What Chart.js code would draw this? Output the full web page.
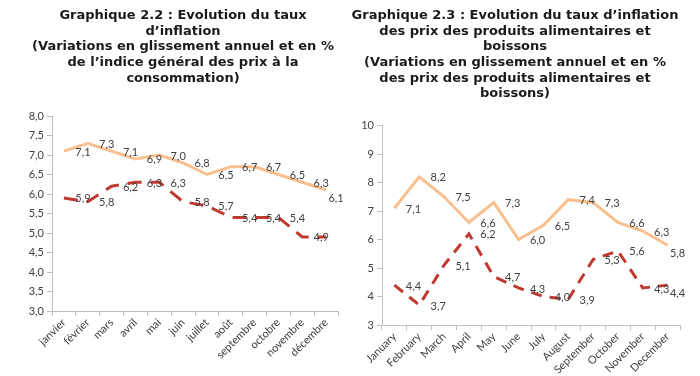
<!DOCTYPE html>
<html>
<head>
<meta charset="utf-8">
<script src="https://cdn.jsdelivr.net/npm/chart.js@4.4.1/dist/chart.umd.min.js"></script>
<style>
  body { margin: 0; background: #fff; }
  #wrap { position: relative; width: 700px; height: 376px; }
  canvas { position: absolute; top: 0; }
  #left { left: 0; }
  #right { left: 350px; }
</style>
</head>
<body>
<div id="wrap">
  <canvas id="left" width="350" height="376"></canvas>
  <canvas id="right" width="350" height="376"></canvas>
</div>
<script>
const moisFr = ["janvier", "février", "mars", "avril", "mai", "juin", "juillet", "août", "septembre", "octobre", "novembre", "décembre"];
const monthsEn = ["January", "February", "March", "April", "May", "June", "July", "August", "September", "October", "November", "December"];

// Graphique 2.2
const generalOrange = [7.1, 7.3, 7.1, 6.9, 7.0, 6.8, 6.5, 6.7, 6.7, 6.5, 6.3, 6.1];
const generalRed    = [5.9, 5.8, 6.2, 6.3, 6.3, 5.8, 5.7, 5.4, 5.4, 5.4, 4.9, 4.9];

// Graphique 2.3
const foodOrange = [7.1, 8.2, 7.5, 6.6, 7.3, 6.0, 6.5, 7.4, 7.3, 6.6, 6.3, 5.8];
const foodRed    = [4.4, 3.7, 5.1, 6.2, 4.7, 4.3, 4.0, 3.9, 5.3, 5.6, 4.3, 4.4];

const title22 = [
  "Graphique 2.2 : Evolution du taux",
  "d\u2019inflation",
  "(Variations en glissement annuel et en %",
  "de l\u2019indice général des prix à la",
  "consommation)"
];
const title23 = [
  "Graphique 2.3 : Evolution du taux d\u2019inflation",
  "des prix des produits alimentaires et",
  "boissons",
  "(Variations en glissement annuel et en %",
  "des prix des produits alimentaires et",
  "boissons)"
];

const ORANGE = "#f9bf8f";
const RED = "#c0392f";
const AXIS = "#bfbfbf";
const TXT = "#404040";

function fmt(v, dec) {
  return v.toFixed(dec).replace(".", ",");
}

// value labels drawn right of each point, like the Excel ones
const valueLabels = {
  id: "valueLabels",
  afterDatasetsDraw(chart) {
    const ctx = chart.ctx;
    ctx.save();
    ctx.font = "11px Lato";
    ctx.fillStyle = TXT;
    ctx.textAlign = "center";
    ctx.textBaseline = "middle";
    chart.data.datasets.forEach((ds, i) => {
      const meta = chart.getDatasetMeta(i);
      const skip = ds.skipLabels || [];
      meta.data.forEach((pt, j) => {
        if (skip.includes(j)) return;
        // last label of a series sits just under its point
        const last = j === meta.data.length - 1;
        const dx = last ? 10 : 19;
        const dy = last ? 8 : 1;
        ctx.fillText(fmt(ds.data[j], 1), pt.x + dx, pt.y + dy);
      });
    });
    ctx.restore();
  }
};

function makeChart(id, labels, orange, red, opts) {
  return new Chart(document.getElementById(id).getContext("2d"), {
    type: "line",
    data: {
      labels: labels,
      datasets: [
        {
          data: red,
          borderColor: RED,
          borderWidth: 3,
          borderDash: opts.dash,
          pointRadius: 0,
          tension: 0,
          skipLabels: opts.skipRed || []
        },
        {
          data: orange,
          borderColor: ORANGE,
          borderWidth: 3,
          pointRadius: 0,
          tension: 0
        }
      ]
    },
    plugins: [valueLabels],
    options: {
      responsive: false,
      animation: false,
      layout: { padding: { left: opts.padLeft, right: opts.padRight, top: 0, bottom: 0 } },
      plugins: {
        legend: { display: false },
        tooltip: { enabled: false },
        title: {
          display: true,
          text: opts.title,
          color: "#1a1a1a",
          font: { family: "DejaVu Sans", weight: "bold", size: 13, lineHeight: 1.2 },
          padding: { top: 8, bottom: opts.titleGap }
        }
      },
      scales: {
        x: {
          offset: true,
          grid: { drawOnChartArea: false, offset: true, color: AXIS, tickLength: 5 },
          border: { color: AXIS, width: 1 },
          ticks: {
            color: TXT,
            font: { family: "Lato", size: 11 },
            maxRotation: 45,
            minRotation: 45,
            padding: 0,
            autoSkip: false
          },
          afterFit: function(scale) { scale.height = opts.xHeight; }
        },
        y: {
          min: opts.min,
          max: opts.max,
          grid: { drawOnChartArea: false, color: AXIS, tickLength: 5 },
          border: { color: AXIS, width: 1 },
          ticks: {
            stepSize: opts.step,
            color: TXT,
            font: { family: "Lato", size: 11 },
            padding: 3,
            callback: function(value) { return fmt(value, opts.dec); }
          },
          afterFit: function(scale) { scale.width = opts.yWidth; }
        }
      }
    }
  });
}

makeChart("left", moisFr, generalOrange, generalRed, {
  title: title22, titleGap: 30, padLeft: 28, padRight: 12, xHeight: 65, yWidth: 24,
  min: 3, max: 8, step: 0.5, dec: 1, dash: [14, 9], skipRed: [11]
});

makeChart("right", monthsEn, foodOrange, foodRed, {
  title: title23, titleGap: 24, padLeft: 0, padRight: 20, xHeight: 51, yWidth: 32,
  min: 3, max: 10, step: 1, dec: 0, dash: [11, 8]
});
</script>
</body>
</html>
